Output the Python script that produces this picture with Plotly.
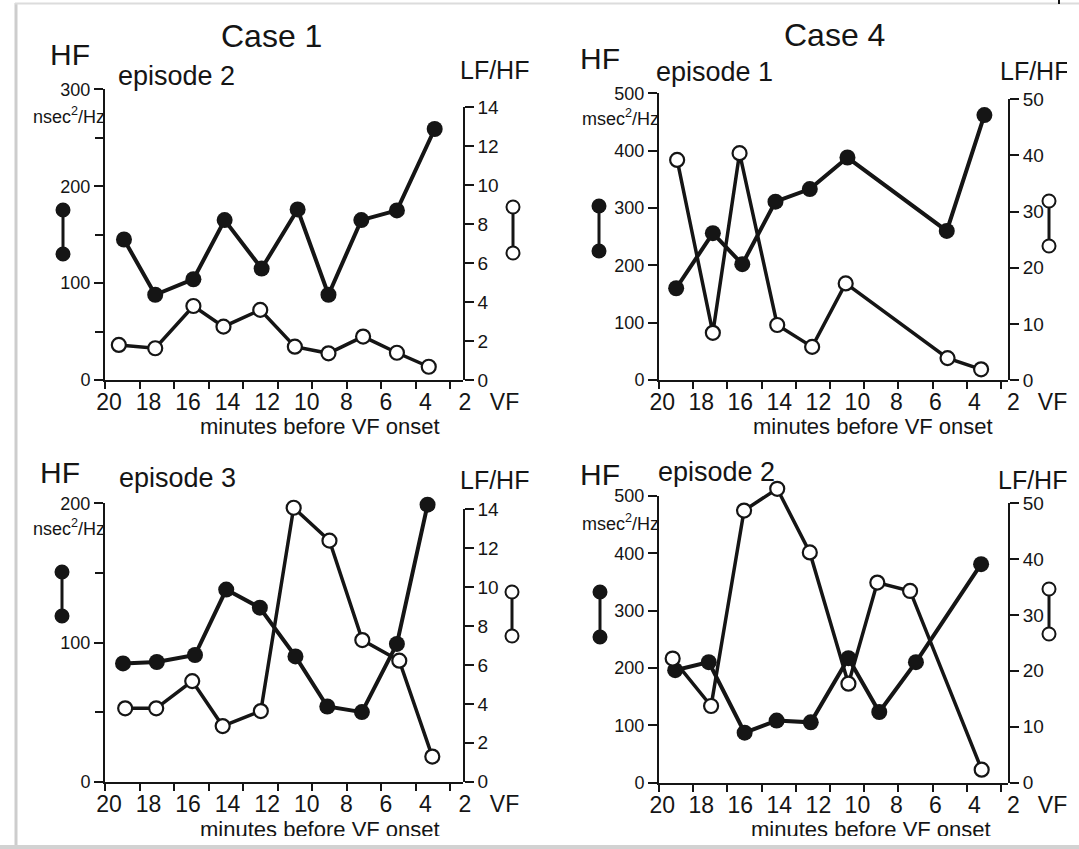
import plotly.graph_objects as go

W, H = 1079, 849
FONT = "Liberation Sans, Arial, sans-serif"
INK = "#151515"

# ---------------- data ----------------
minute_ticks = [20, 18, 16, 14, 12, 10, 8, 6, 4, 2, 0]
minute_labels = ["20", "18", "16", "14", "12", "10", "8", "6", "4", "2", "VF"]

# Case 1, episode 2
c1e2_hf_min = [19.24, 17.66, 15.73, 14.15, 12.28, 10.46, 8.90, 7.24, 5.44, 3.53]
c1e2_hf = [145, 88, 104, 165, 115, 176, 88, 165, 175, 259]
c1e2_lfhf_min = [19.50, 17.66, 15.73, 14.21, 12.35, 10.60, 8.90, 7.15, 5.44, 3.83]
c1e2_lfhf = [1.80, 1.63, 3.80, 2.74, 3.60, 1.71, 1.37, 2.23, 1.40, 0.68]

# Case 4, episode 1
c4e1_hf_min = [19.29, 17.41, 15.90, 14.20, 12.44, 10.51, 5.42, 3.49]
c4e1_hf = [160, 256, 202, 311, 333, 388, 260, 462]
c4e1_lfhf_min = [19.24, 17.41, 16.04, 14.11, 12.32, 10.60, 5.38, 3.66]
c4e1_lfhf = [39.2, 8.4, 40.4, 9.8, 5.9, 17.2, 3.9, 1.9]

# Case 1, episode 3
c1e3_hf_min = [19.29, 17.58, 15.65, 14.07, 12.37, 10.57, 8.96, 7.21, 5.44, 3.89]
c1e3_hf = [85, 86, 91, 138, 125, 90, 54, 50, 99, 199]
c1e3_lfhf_min = [19.18, 17.61, 15.79, 14.25, 12.32, 10.66, 8.85, 7.19, 5.32, 3.65]
c1e3_lfhf = [3.77, 3.77, 5.17, 2.86, 3.63, 14.08, 12.39, 7.28, 6.22, 1.29]

# Case 4, episode 2
c4e2_hf_min = [19.34, 17.62, 15.78, 14.14, 12.39, 10.46, 8.88, 7.00, 3.66]
c4e2_hf = [196, 210, 87, 108, 105, 217, 123, 210, 381]
c4e2_lfhf_min = [19.47, 17.50, 15.81, 14.11, 12.44, 10.46, 8.98, 7.30, 3.63]
c4e2_lfhf = [22.2, 13.7, 48.7, 52.6, 41.2, 17.7, 35.8, 34.3, 2.3]

# ---------------- panel layout (pixels) ----------------
panels = [
    dict(hf=(c1e2_hf_min, c1e2_hf), lf=(c1e2_lfhf_min, c1e2_lfhf),
         L=105, R=462.7, VF=504.5, lab_r0=20.2, tick_r1=-0.736,
         bottom=380, top_l=89.3, top_r=107.3,
         ymax=300, yvals=[0, 100, 200, 300], yminor=50,
         y2max=14, y2vals=[0, 2, 4, 6, 8, 10, 12, 14],
         legL=(63, 210, 254), legR=(513, 207, 253),
         case=("Case 1", 271, 36), hf_lab=(70, 54), ep=("episode 2", 176, 76),
         lfhf=(494, 70), unit=("nsec<sup>2</sup>/Hz", 116), xt=(320, 426)),
    dict(hf=(c4e1_hf_min, c4e1_hf), lf=(c4e1_lfhf_min, c4e1_lfhf),
         L=659, R=1008, VF=1052.5, lab_r0=20.17, tick_r1=-0.41,
         bottom=380, top_l=93.3, top_r=99.3,
         ymax=500, yvals=[0, 100, 200, 300, 400, 500], yminor=None,
         y2max=50, y2vals=[0, 10, 20, 30, 40, 50],
         legL=(599, 206, 251), legR=(1049, 201, 246),
         case=("Case 4", 834, 35), hf_lab=(600, 58), ep=("episode 1", 714, 72),
         lfhf=(1034, 71), unit=("msec<sup>2</sup>/Hz", 118), xt=(873, 426)),
    dict(hf=(c1e3_hf_min, c1e3_hf), lf=(c1e3_lfhf_min, c1e3_lfhf),
         L=105, R=462.7, VF=504.5, lab_r0=20.2, tick_r1=-0.736,
         bottom=781.7, top_l=503.3, top_r=509.3,
         ymax=200, yvals=[0, 100, 200], yminor=50,
         y2max=14, y2vals=[0, 2, 4, 6, 8, 10, 12, 14],
         legL=(62, 572, 616), legR=(512, 592, 636),
         case=None, hf_lab=(60, 473), ep=("episode 3", 177, 478),
         lfhf=(494, 480), unit=("nsec<sup>2</sup>/Hz", 527), xt=(320, 829)),
    dict(hf=(c4e2_hf_min, c4e2_hf), lf=(c4e2_lfhf_min, c4e2_lfhf),
         L=659, R=1008, VF=1052.5, lab_r0=20.17, tick_r1=-0.41,
         bottom=782.5, top_l=496, top_r=503.3,
         ymax=500, yvals=[0, 100, 200, 300, 400, 500], yminor=None,
         y2max=50, y2vals=[0, 10, 20, 30, 40, 50],
         legL=(600, 592, 637), legR=(1049, 589, 634),
         case=None, hf_lab=(600, 474), ep=("episode 2", 716, 472),
         lfhf=(1032, 480), unit=("msec<sup>2</sup>/Hz", 522), xt=(871, 829)),
]

HEADROOM = 1.15  # hidden data axis for LF/HF extends above the drawn axis


def px(x):
    return x / W


def py(y):
    return 1 - y / H


fig = go.Figure()
layout = dict(width=W, height=H, margin=dict(l=0, r=0, t=0, b=0, autoexpand=False),
              paper_bgcolor="white", plot_bgcolor="rgba(0,0,0,0)",
              showlegend=False, font=dict(family=FONT, color=INK))
shapes = []
annotations = []


def ann(text, x, y, size, xanchor="center", yanchor="middle"):
    annotations.append(dict(text=text, x=px(x), y=py(y), xref="paper", yref="paper",
                            xanchor=xanchor, yanchor=yanchor, showarrow=False,
                            font=dict(family=FONT, size=size, color=INK)))


def circle(cx, cy, r, fill, lw):
    shapes.append(dict(type="circle", xref="paper", yref="paper", xsizemode="pixel",
                       ysizemode="pixel", xanchor=px(cx), yanchor=py(cy),
                       x0=-r, x1=r, y0=-r, y1=r, fillcolor=fill,
                       line=dict(color=INK, width=lw), layer="above"))


for i, p in enumerate(panels):
    base = 3 * i
    xl, xt = 2 * i + 1, 2 * i + 2
    yl, yr, yd = base + 1, base + 2, base + 3
    xl_name = "x" if xl == 1 else f"x{xl}"
    yl_name = "y" if yl == 1 else f"y{yl}"
    xt_name, yr_name, yd_name = f"x{xt}", f"y{yr}", f"y{yd}"
    xl_key = "xaxis" if xl == 1 else f"xaxis{xl}"
    yl_key = "yaxis" if yl == 1 else f"yaxis{yl}"

    # label axis (carries the data)
    layout[xl_key] = dict(domain=[px(p["L"]), px(p["VF"])], range=[p["lab_r0"], 0],
                          anchor=yl_name, showline=False, showgrid=False, zeroline=False,
                          automargin=False,
                          tickmode="array", tickvals=minute_ticks, ticktext=minute_labels,
                          ticks="", ticklabelstandoff=6,
                          tickfont=dict(size=23, color=INK, family=FONT))
    # tick-mark axis (frame line)
    tv = [t for t in minute_ticks if t >= p["tick_r1"]]
    layout[f"xaxis{xt}"] = dict(domain=[px(p["L"]), px(p["R"])], range=[20, p["tick_r1"]],
                                anchor=yl_name, showline=True, linecolor=INK, linewidth=2,
                                showgrid=False, zeroline=False, automargin=False,
                                tickmode="array", tickvals=tv,
                                ticks="outside", ticklen=7, tickwidth=1.6, tickcolor=INK,
                                showticklabels=False)
    ylax = dict(domain=[py(p["bottom"]), py(p["top_l"])], range=[0, p["ymax"]],
                anchor=xt_name, showline=True, linecolor=INK, linewidth=2,
                showgrid=False, zeroline=False, automargin=False,
                tickmode="array", tickvals=p["yvals"],
                ticks="outside", ticklen=9, tickwidth=1.6, tickcolor=INK,
                tickfont=dict(size=18, color=INK, family=FONT))
    if p["yminor"]:
        ylax["minor"] = dict(dtick=p["yminor"], tick0=0, ticks="outside", ticklen=8,
                             tickwidth=1.6, tickcolor=INK, showgrid=False)
    layout[yl_key] = ylax
    layout[f"yaxis{yr}"] = dict(domain=[py(p["bottom"]), py(p["top_r"])], range=[0, p["y2max"]],
                                anchor=xt_name, side="right", showline=True, linecolor=INK,
                                linewidth=2, showgrid=False, zeroline=False, automargin=False,
                                tickmode="array",
                                tickvals=p["y2vals"], ticks="outside", ticklen=9, tickwidth=1.6,
                                tickcolor=INK, tickfont=dict(size=19, color=INK, family=FONT))
    # hidden LF/HF data axis: same scale as the drawn right axis, with headroom
    top_d = p["bottom"] - (p["bottom"] - p["top_r"]) * HEADROOM
    layout[f"yaxis{yd}"] = dict(domain=[py(p["bottom"]), py(top_d)],
                                range=[0, p["y2max"] * HEADROOM], anchor=xl_name,
                                visible=False, automargin=False, showgrid=False,
                                zeroline=False)

    # placeholders so the frame axes are registered
    fig.add_trace(go.Scatter(x=[None], y=[None], xaxis=xt_name, yaxis=yl_name,
                             mode="markers", hoverinfo="skip", showlegend=False))
    fig.add_trace(go.Scatter(x=[None], y=[None], xaxis=xt_name, yaxis=yr_name,
                             mode="markers", hoverinfo="skip", showlegend=False))

    fig.add_trace(go.Scatter(x=p["hf"][0], y=p["hf"][1], xaxis=xl_name, yaxis=yl_name,
                             mode="lines+markers", cliponaxis=False,
                             line=dict(color=INK, width=4),
                             marker=dict(size=16, color=INK, line=dict(width=0)), name="HF"))
    fig.add_trace(go.Scatter(x=p["lf"][0], y=p["lf"][1], xaxis=xl_name, yaxis=yd_name,
                             mode="lines+markers", cliponaxis=False,
                             line=dict(color=INK, width=3.5),
                             marker=dict(size=14, color="white", line=dict(width=2.2, color=INK)),
                             name="LF/HF"))

    # key symbols beside the axes
    cx, y1, y2 = p["legL"]
    shapes.append(dict(type="line", xref="paper", yref="paper", x0=px(cx), x1=px(cx),
                       y0=py(y1), y1=py(y2), line=dict(color=INK, width=3), layer="above"))
    circle(cx, y1, 7.5, INK, 0)
    circle(cx, y2, 7.5, INK, 0)
    cx, y1, y2 = p["legR"]
    shapes.append(dict(type="line", xref="paper", yref="paper", x0=px(cx), x1=px(cx),
                       y0=py(y1), y1=py(y2), line=dict(color=INK, width=3), layer="above"))
    circle(cx, y1, 6.5, "white", 2)
    circle(cx, y2, 6.5, "white", 2)

    # texts
    if p["case"]:
        ann(p["case"][0], p["case"][1], p["case"][2], 32)
    ann("HF", p["hf_lab"][0], p["hf_lab"][1], 30)
    ann(p["ep"][0], p["ep"][1], p["ep"][2], 27)
    ann("LF/HF", p["lfhf"][0], p["lfhf"][1], 25)
    ann(p["unit"][0], p["L"] + 2, p["unit"][1], 18, xanchor="right")
    ann("minutes before VF onset", p["xt"][0], p["xt"][1], 22)

# screenshot frame
shapes.append(dict(type="line", xref="paper", yref="paper", x0=px(16), x1=px(16),
                   y0=py(3), y1=0, line=dict(color="#cdcdcd", width=3), layer="above"))
shapes.append(dict(type="line", xref="paper", yref="paper", x0=px(15), x1=1,
                   y0=py(3.5), y1=py(3.5), line=dict(color="#dcdcdc", width=2), layer="above"))
shapes.append(dict(type="line", xref="paper", yref="paper", x0=px(1059), x1=px(1059),
                   y0=1, y1=py(4), line=dict(color=INK, width=2), layer="above"))


def cover(x0, y0, w, h, color):
    annotations.append(dict(text=" ", x=px(x0), y=py(y0), xref="paper", yref="paper",
                            xanchor="left", yanchor="top", width=w, height=h,
                            bgcolor=color, borderpad=0, borderwidth=0, showarrow=False))


cover(18, 836, W - 18, 10, "white")
cover(0, 845, W, 4, "#d2d2d2")
cover(1067, 6, W - 1067, 830, "white")

layout["shapes"] = shapes
layout["annotations"] = annotations
fig.update_layout(**layout)
fig.write_html("out.html")
